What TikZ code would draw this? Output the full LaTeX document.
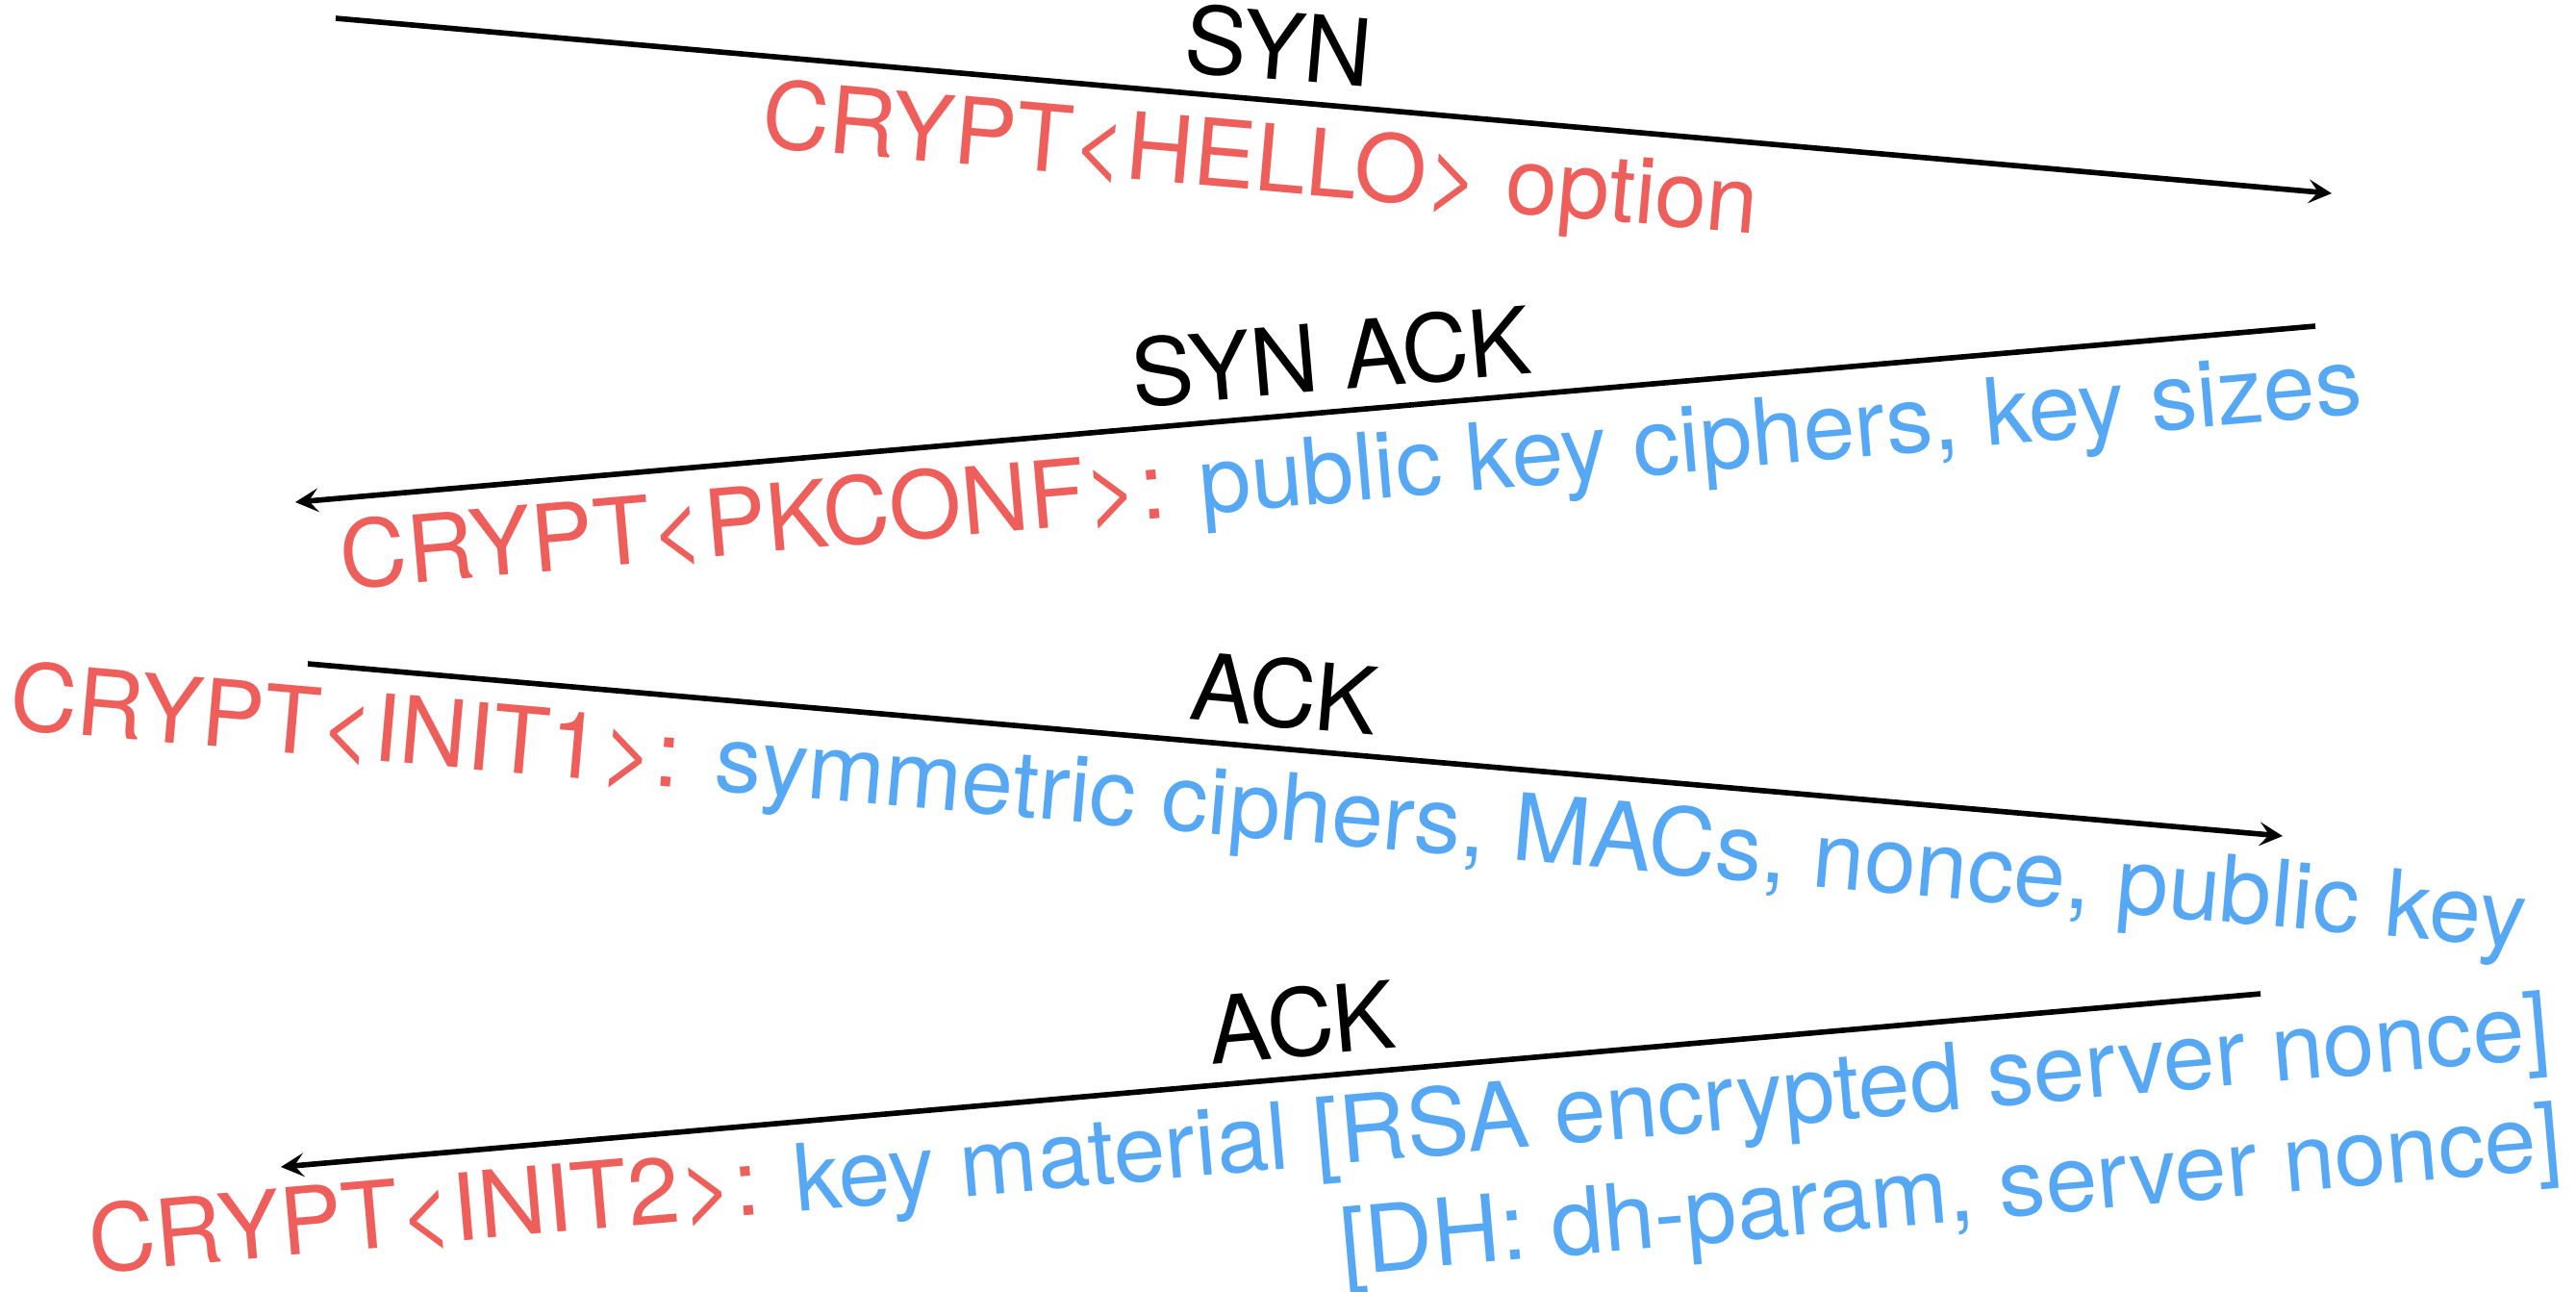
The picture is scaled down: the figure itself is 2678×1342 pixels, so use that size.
\documentclass[tikz,border=0pt]{standalone}
\definecolor{CryptRed}{RGB}{238, 94, 90}
\definecolor{CryptBlue}{RGB}{86, 168, 245}
\usepackage{fontspec}
\setmainfont{TeX Gyre Heros}
\usepackage{tikz}
\usetikzlibrary{arrows.meta}

\begin{document}
\begin{tikzpicture}[x=0.01cm, y=-0.01cm,
    msg/.style={line width=1.6pt, -{Stealth[length=6.8pt, width=7pt, inset=2.8pt]}},
    flag/.style={sloped, above, inner sep=5pt, font=\fontsize{27.5}{32}\selectfont},
    payload/.style={sloped, below, inner sep=5.5pt, text=CryptBlue, font=\fontsize{27.5}{34}\selectfont}]
  \useasboundingbox (0,0) rectangle (2678,1342);

  % end points of the four messages
  \coordinate (synFrom) at (349,19);
  \coordinate (synTo) at (2424,201);
  \coordinate (synackFrom) at (2407,339);
  \coordinate (synackTo) at (307,522);
  \coordinate (ackOneFrom) at (320,690);
  \coordinate (ackOneTo) at (2373,869);
  \coordinate (ackTwoFrom) at (2350,1033);
  \coordinate (ackTwoTo) at (292,1213);

  \draw[msg] (synFrom) -- node[flag, pos=0.47] (syn) {SYN}
    node[payload, pos=0.466, text=CryptRed] (hello) {CRYPT<HELLO> option} (synTo);

  \draw[msg] (synackFrom) -- node[flag, pos=0.485] (synack) {SYN ACK}
    node[payload, pos=0.48] (pkconf) {\textcolor{CryptRed}{CRYPT<PKCONF>:} public key ciphers, key sizes} (synackTo);

  \draw[msg] (ackOneFrom) -- node[flag, pos=0.492] (ackOne) {ACK}
    node[payload, pos=0.489] (initOne) {\textcolor{CryptRed}{CRYPT<INIT1>:} symmetric ciphers, MACs, nonce, public key} (ackOneTo);

  \draw[msg] (ackTwoFrom) -- node[flag, pos=0.482] (ackTwo) {ACK}
    node[payload, pos=0.478, inner sep=5pt] (initTwo) {\textcolor{CryptRed}{CRYPT<INIT2>:} key material [RSA encrypted server nonce]} (ackTwoTo);
  \node[text=CryptBlue, font=\fontsize{27.5}{34}\selectfont, rotate=5, anchor=north east,
    inner xsep=5pt, inner ysep=0.8pt] (dhParam) at (initTwo.south east) {[DH: dh-param, server nonce]};
\end{tikzpicture}
\end{document}
